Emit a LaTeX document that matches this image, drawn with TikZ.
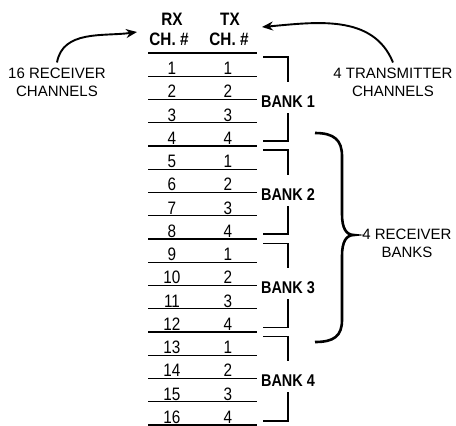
\documentclass[tikz,border=0pt]{standalone}
\usepackage{fontspec}
\setmainfont{Liberation Sans}
\newfontfamily\narrowfont[FakeStretch=0.85]{Liberation Sans}
\usetikzlibrary{arrows.meta,positioning}
\tikzset{
    chnum/.style={
    inner sep=0pt,font=\narrowfont\fontsize{18}{18}\selectfont
    },
    header/.style={
    anchor=base,inner sep=0pt,font=\narrowfont\bfseries\fontsize{18}{18}\selectfont
    },
    bank/.style={
    anchor=base,inner xsep=2pt,inner ysep=6pt,text height=19pt,text depth=0pt,
    font=\narrowfont\bfseries\fontsize{17}{17}\selectfont
    },
    note/.style={
    align=center,inner sep=2pt,font=\fontsize{15}{18}\selectfont
    },
    thinrule/.style={line width=1.2pt},
    thickrule/.style={line width=2.8pt},
    bracket/.style={line width=1.4pt},
    bigbrace/.style={line width=2.6pt},
    pointer/.style={line width=1.9pt,-{Stealth[length=11pt,width=9pt]}},
}
\begin{document}
\begin{tikzpicture}[x=1pt, y=1pt, node distance=23.25pt, on grid]
   \useasboundingbox (0,0) rectangle (456,-426);
   %headers
   \node[header] (rxhead) at (172,-25) {RX};
   \node[header] (rxch) at (169,-45) {CH. \#};
   \node[header] (txhead) at (230,-25) {TX};
   \node[header] (txch) at (229,-45) {CH. \#};
   %bank 1 rows
   \node[chnum] (rx1) at (172,-68.4) {1};
   \node[chnum] (tx1) [right=56pt of rx1] {1};
   \node[chnum] (rx2) [below=of rx1] {2};
   \node[chnum] (tx2) [right=56pt of rx2] {2};
   \node[chnum] (rx3) [below=of rx2] {3};
   \node[chnum] (tx3) [right=56pt of rx3] {3};
   \node[chnum] (rx4) [below=of rx3] {4};
   \node[chnum] (tx4) [right=56pt of rx4] {4};
   %bank 2 rows
   \node[chnum] (rx5) [below=of rx4] {5};
   \node[chnum] (tx5) [right=56pt of rx5] {1};
   \node[chnum] (rx6) [below=of rx5] {6};
   \node[chnum] (tx6) [right=56pt of rx6] {2};
   \node[chnum] (rx7) [below=of rx6] {7};
   \node[chnum] (tx7) [right=56pt of rx7] {3};
   \node[chnum] (rx8) [below=of rx7] {8};
   \node[chnum] (tx8) [right=56pt of rx8] {4};
   %bank 3 rows
   \node[chnum] (rx9) [below=of rx8] {9};
   \node[chnum] (tx9) [right=56pt of rx9] {1};
   \node[chnum] (rx10) [below=of rx9] {10};
   \node[chnum] (tx10) [right=56pt of rx10] {2};
   \node[chnum] (rx11) [below=of rx10] {11};
   \node[chnum] (tx11) [right=56pt of rx11] {3};
   \node[chnum] (rx12) [below=of rx11] {12};
   \node[chnum] (tx12) [right=56pt of rx12] {4};
   %bank 4 rows
   \node[chnum] (rx13) [below=of rx12] {13};
   \node[chnum] (tx13) [right=56pt of rx13] {1};
   \node[chnum] (rx14) [below=of rx13] {14};
   \node[chnum] (tx14) [right=56pt of rx14] {2};
   \node[chnum] (rx15) [below=of rx14] {15};
   \node[chnum] (tx15) [right=56pt of rx15] {3};
   \node[chnum] (rx16) [below=of rx15] {16};
   \node[chnum] (tx16) [right=56pt of rx16] {4};
   %rules
   \foreach \k in {0,4,8,12}
     \draw[thickrule] (148,-53-23.25*\k) -- (257,-53-23.25*\k);
   \foreach \k in {1,2,3,5,6,7,9,10,11,13,14,15,16}
     \draw[thinrule] (148,-53-23.25*\k) -- (257,-53-23.25*\k);
   %bank labels
   \node[bank] (bank1) at (288,-107) {BANK 1};
   \node[bank] (bank2) at (288,-200) {BANK 2};
   \node[bank] (bank3) at (288,-293) {BANK 3};
   \node[bank] (bank4) at (288,-386) {BANK 4};
   \coordinate (b1top) at (263,-57);
   \coordinate (b1bot) at (263,-141);
   \coordinate (b2top) at (263,-150);
   \coordinate (b2bot) at (263,-234);
   \coordinate (b3top) at (263,-243.5);
   \coordinate (b3bot) at (263,-327.5);
   \coordinate (b4top) at (263,-336.5);
   \coordinate (b4bot) at (263,-421);
   \draw[bracket] (b1top) -| (bank1.north);
   \draw[bracket] (b1bot) -| (bank1.south);
   \draw[bracket] (b2top) -| (bank2.north);
   \draw[bracket] (b2bot) -| (bank2.south);
   \draw[bracket] (b3top) -| (bank3.north);
   \draw[bracket] (b3bot) -| (bank3.south);
   \draw[bracket] (b4top) -| (bank4.north);
   \draw[bracket] (b4bot) -| (bank4.south);
   %receiver banks brace
   \coordinate (brtop) at (315,-133);
   \coordinate (brtip) at (354,-235);
   \coordinate (brbot) at (315,-342);
   \draw[bigbrace] (brtop) .. controls (334,-133) and (342,-140) .. (342,-156)
     -- (342,-214) .. controls (342,-228) and (346,-235) .. (brtip)
     .. controls (346,-235) and (342,-242) .. (342,-256)
     -- (342,-320) .. controls (342,-336) and (334,-342) .. (brbot);
   \node[note] (banknote) at (407,-243) {4 RECEIVER\\BANKS};
   %side notes
   \node[note] (rxnote) at (57,-82) {16 RECEIVER\\CHANNELS};
   \node[note] (txnote) at (393,-82) {4 TRANSMITTER\\CHANNELS};
   \coordinate (rxtip) at (137,-32);
   \coordinate (txtip) at (262,-27);
   \draw[pointer] ([yshift=3pt]rxnote.north) to[out=80,in=188] (rxtip);
   \draw[pointer] ([yshift=3pt]txnote.north) to[out=112,in=5] (txtip);
\end{tikzpicture}
\end{document}
